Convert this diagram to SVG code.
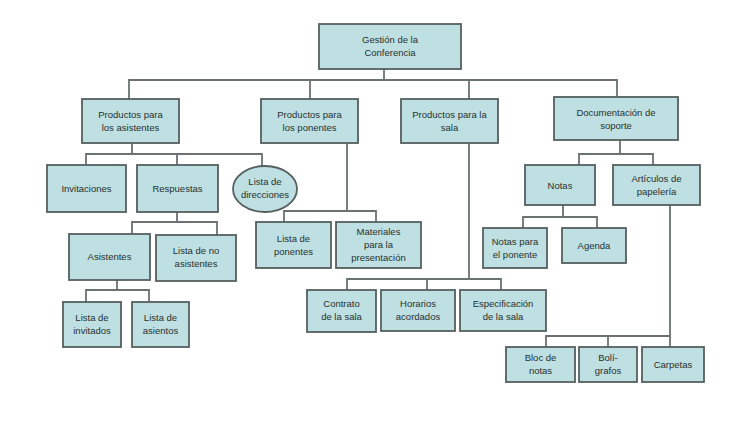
<svg xmlns="http://www.w3.org/2000/svg" width="750" height="442" viewBox="0 0 750 442">
<style>
.n{fill:#bfe0e2;stroke:#56605f;stroke-width:1.8}
.t{font-family:"Liberation Sans",Arial,sans-serif;font-size:9.5px;fill:#26302f;text-anchor:middle}
.c{fill:none;stroke:#6b7272;stroke-width:1.8}
</style>
<rect width="750" height="442" fill="#ffffff"/>
<g id="connectors" class="c">
<path d="M384 69V80M129 99V80H617V97M310 80V99M469 80V99"/>
<path d="M132 143V154M86 165V154H262V166M177 154V165"/>
<path d="M177 212V222M132 234V222H217V235"/>
<path d="M117 280V290M86 302V290H149V302"/>
<path d="M347 143V211M284 222V211H376V222"/>
<path d="M469 143V279M347 290V279H501V290M427 279V290"/>
<path d="M620 140V154M579 165V154H653V165"/>
<path d="M563 205V217M523 228V217H597V228"/>
<path d="M670 205V347M546 347V336H670M608 336V347"/>
</g>
<g id="root"><rect class="n" x="319" y="24" width="142" height="45"/><text class="t" x="390" y="43">Gestión de la</text><text class="t" x="390" y="56">Conferencia</text></g>
<g id="asistentes"><rect class="n" x="82" y="99" width="97" height="44"/><text class="t" x="130.5" y="118">Productos para</text><text class="t" x="130.5" y="131">los asistentes</text></g>
<g id="ponentes"><rect class="n" x="261" y="99" width="97" height="44"/><text class="t" x="309.5" y="118">Productos para</text><text class="t" x="309.5" y="131">los ponentes</text></g>
<g id="sala"><rect class="n" x="401" y="99" width="97" height="44"/><text class="t" x="449.5" y="118">Productos para la</text><text class="t" x="449.5" y="131">sala</text></g>
<g id="documentacion"><rect class="n" x="554" y="97" width="124" height="43"/><text class="t" x="616" y="116">Documentación de</text><text class="t" x="616" y="129">soporte</text></g>
<g id="invitaciones"><rect class="n" x="47" y="165" width="79" height="47"/><text class="t" x="86.5" y="192">Invitaciones</text></g>
<g id="respuestas"><rect class="n" x="137" y="165" width="81" height="47"/><text class="t" x="177.5" y="192">Respuestas</text></g>
<g id="direcciones"><ellipse class="n" cx="265" cy="189" rx="32" ry="23"/><text class="t" x="265" y="185">Lista de</text><text class="t" x="265" y="198">direcciones</text></g>
<g id="asist"><rect class="n" x="69" y="234" width="81" height="46"/><text class="t" x="109.5" y="260">Asistentes</text></g>
<g id="noasist"><rect class="n" x="156" y="235" width="80" height="46"/><text class="t" x="196" y="254">Lista de no</text><text class="t" x="196" y="267">asistentes</text></g>
<g id="invitados"><rect class="n" x="63" y="302" width="58" height="45"/><text class="t" x="92" y="321">Lista de</text><text class="t" x="92" y="334">invitados</text></g>
<g id="asientos"><rect class="n" x="132" y="302" width="57" height="45"/><text class="t" x="160.5" y="321">Lista de</text><text class="t" x="160.5" y="334">asientos</text></g>
<g id="listaponentes"><rect class="n" x="256" y="222" width="75" height="46"/><text class="t" x="293.5" y="242">Lista de</text><text class="t" x="293.5" y="255">ponentes</text></g>
<g id="materiales"><rect class="n" x="336" y="222" width="85" height="46"/><text class="t" x="378.5" y="235">Materiales</text><text class="t" x="378.5" y="248">para la</text><text class="t" x="378.5" y="261">presentación</text></g>
<g id="contrato"><rect class="n" x="307" y="290" width="69" height="42"/><text class="t" x="341.5" y="307">Contrato</text><text class="t" x="341.5" y="320">de la sala</text></g>
<g id="horarios"><rect class="n" x="381" y="290" width="74" height="41"/><text class="t" x="418" y="307">Horarios</text><text class="t" x="418" y="320">acordados</text></g>
<g id="especificacion"><rect class="n" x="460" y="290" width="86" height="41"/><text class="t" x="503" y="307">Especificación</text><text class="t" x="503" y="320">de la sala</text></g>
<g id="notas"><rect class="n" x="525" y="165" width="70" height="40"/><text class="t" x="560" y="189">Notas</text></g>
<g id="papeleria"><rect class="n" x="613" y="165" width="87" height="40"/><text class="t" x="656.5" y="182">Artículos de</text><text class="t" x="656.5" y="195">papelería</text></g>
<g id="notasponente"><rect class="n" x="483" y="228" width="64" height="40"/><text class="t" x="515" y="245">Notas para</text><text class="t" x="515" y="258">el ponente</text></g>
<g id="agenda"><rect class="n" x="562" y="228" width="64" height="35"/><text class="t" x="594" y="249">Agenda</text></g>
<g id="bloc"><rect class="n" x="506" y="347" width="69" height="35"/><text class="t" x="540.5" y="361">Bloc de</text><text class="t" x="540.5" y="374">notas</text></g>
<g id="boligrafos"><rect class="n" x="579" y="347" width="58" height="35"/><text class="t" x="608" y="361">Bolí-</text><text class="t" x="608" y="374">grafos</text></g>
<g id="carpetas"><rect class="n" x="642" y="347" width="62" height="35"/><text class="t" x="673" y="368">Carpetas</text></g>
</svg>
